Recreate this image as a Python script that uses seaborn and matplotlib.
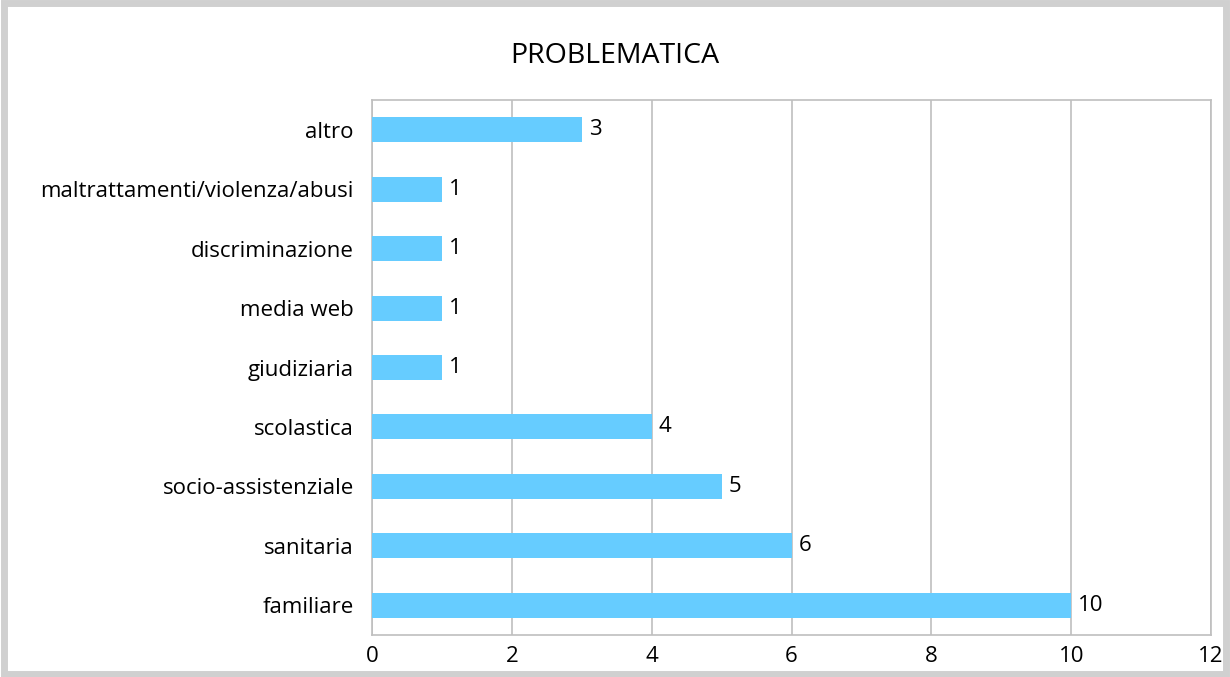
import seaborn as sns
import matplotlib.pyplot as plt
import pandas as pd
from matplotlib.patches import Rectangle

# categories from top to bottom, as shown in the chart
categories = ['altro', 'maltrattamenti/violenza/abusi', 'discriminazione', 'media web',
              'giudiziaria', 'scolastica', 'socio-assistenziale', 'sanitaria', 'familiare']
counts = [3, 1, 1, 1, 1, 4, 5, 6, 10]
xticks = [0, 2, 4, 6, 8, 10, 12]

df = pd.DataFrame({'problematica': categories, 'n': counts})

sns.set_style('white')
plt.rcParams['font.family'] = ['Open Sans', 'DejaVu Sans']

fig = plt.figure(figsize=(12.3, 6.77), dpi=100)
ax = fig.add_axes([0.3024, 0.062, 0.6822, 0.7903])

sns.barplot(data=df, y='problematica', x='n', orient='h', color='#66CCFF',
            saturation=1, width=0.42, linewidth=0, ax=ax, zorder=3)

ax.set_xlim(0, 12)
ax.set_xticks(xticks)
ax.xaxis.grid(True, color='#bfbfbf', linewidth=1.2, zorder=0)
ax.set_axisbelow(True)
for s in ax.spines.values():
    s.set_color('#bfbfbf')
    s.set_linewidth(1.2)
ax.tick_params(axis='both', length=0, labelsize=16, colors='black')
ax.tick_params(axis='x', pad=8)
ax.tick_params(axis='y', pad=13)
ax.set_xlabel('')
ax.set_ylabel('')

for c in ax.containers:
    ax.bar_label(c, padding=5, fontsize=16, color='black')

fig.text(0.5, 0.918, 'PROBLEMATICA', ha='center', va='center', fontsize=20.5, color='black')

# outer frame of the chart
fig.patches.append(Rectangle((0.003, 0.005), 0.994, 0.99, transform=fig.transFigure,
                             fill=False, edgecolor='#d0d0d0', linewidth=5))

fig.savefig('out.png', dpi=100)
